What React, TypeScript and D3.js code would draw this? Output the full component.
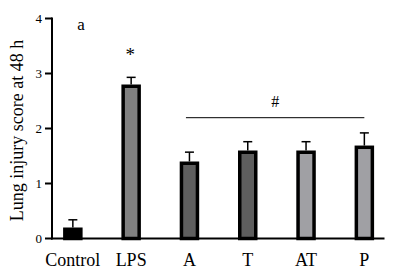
import React from "react";
import * as d3 from "d3";

const categories = ["Control", "LPS", "A", "T", "AT", "P"];
const means = [0.2, 2.8, 1.4, 1.6, 1.6, 1.69];
const errors = [0.14, 0.13, 0.17, 0.16, 0.16, 0.23];
const fills = ["#000000", "#808080", "#5e5e5e", "#5e5e5e", "#a0a0a4", "#a0a0a4"];
const yTicks = [0, 1, 2, 3, 4];
const yLabel = "Lung injury score at 48 h";

const W = 394;
const H = 271;
const FONT = "'Liberation Serif', 'Times New Roman', serif";

export default function App() {
  const y = d3.scaleLinear().domain([0, 4]).range([238.5, 18.5]);
  const x = d3.scaleBand().domain(categories).range([43.7, 393.5]).padding(0);
  const cx = (c: string) => (x(c) as number) + x.bandwidth() / 2;
  const barOuter = 19.5;
  const sw = 3.5;
  const axisX = 52;
  const axisY = y(0);

  const sigStart = cx("A") - 3.5;
  const sigEnd = cx("P");

  return (
    <svg width={W} height={H} style={{ position: "absolute", left: 0, top: 0, background: "#fff" }}>
      {categories.map((c, i) => {
        const top = y(means[i]);
        const errTop = y(means[i] + errors[i]);
        const xc = cx(c);
        return (
          <g key={c}>
            <line x1={xc} x2={xc} y1={top} y2={errTop} stroke="#000" strokeWidth={1.5} />
            <line x1={xc - 4.5} x2={xc + 4.5} y1={errTop} y2={errTop} stroke="#000" strokeWidth={1.5} />
            <rect
              x={xc - barOuter / 2 + sw / 2}
              y={top + sw / 2}
              width={barOuter - sw}
              height={axisY - top - sw / 2}
              fill={fills[i]}
              stroke="#000"
              strokeWidth={sw}
            />
          </g>
        );
      })}
      <line x1={axisX} x2={axisX} y1={y(4) - 1} y2={axisY + 1} stroke="#000" strokeWidth={2} />
      {yTicks.map((t) => (
        <g key={t}>
          <line x1={axisX - 7} x2={axisX} y1={y(t)} y2={y(t)} stroke="#000" strokeWidth={2} />
          <text x={axisX - 10} y={y(t) + 4.5} textAnchor="end" fontFamily={FONT} fontSize={13} fill="#000">
            {t}
          </text>
        </g>
      ))}
      <line x1={axisX - 1} x2={384.5} y1={axisY} y2={axisY} stroke="#000" strokeWidth={2} />
      {categories.map((c) => (
        <text key={c} x={cx(c)} y={266} textAnchor="middle" fontFamily={FONT} fontSize={18} fill="#000">
          {c}
        </text>
      ))}
      <text
        transform={`translate(23,${(y(0) + y(4)) / 2 + 2}) rotate(-90)`}
        textAnchor="middle"
        fontFamily={FONT}
        fontSize={18}
        fill="#000"
      >
        {yLabel}
      </text>
      <text x={81} y={30} textAnchor="middle" fontFamily={FONT} fontSize={17} fill="#000">a</text>
      <text x={cx("LPS") - 1} y={61} textAnchor="middle" fontFamily={FONT} fontSize={19} fill="#000">*</text>
      <line x1={sigStart} x2={sigEnd} y1={117.7} y2={117.7} stroke="#000" strokeWidth={1} />
      <text x={(sigStart + sigEnd) / 2} y={107} textAnchor="middle" fontFamily={FONT} fontSize={16} fill="#000">#</text>
    </svg>
  );
}
